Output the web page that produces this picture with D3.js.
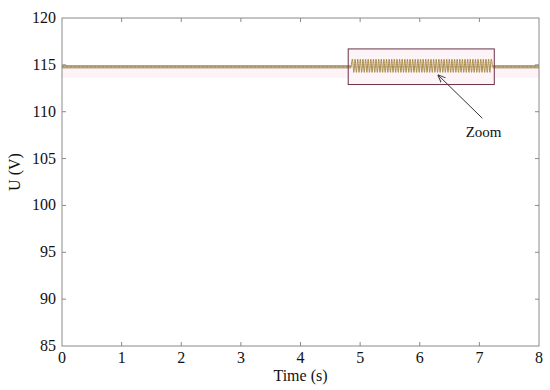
<!DOCTYPE html>
<html>
<head>
<meta charset="utf-8">
<script src="https://cdn.jsdelivr.net/npm/d3@7"></script>
<style>
  body { margin: 0; background: #fff; }
  svg text { font-family: "Liberation Serif", "Times New Roman", Times, "DejaVu Serif", serif; }
</style>
</head>
<body>
<svg id="chart" width="550" height="390"></svg>
<script>
// axis ticks
const xTicks = [0, 1, 2, 3, 4, 5, 6, 7, 8];
const yTicks = [85, 90, 95, 100, 105, 110, 115, 120];

// steady voltage outside the zoomed window (time, volts)
const steadyTime = [0, 1, 2, 3, 4, 4.85, 7.22, 8];
const steadyVolt = [114.8, 114.8, 114.8, 114.8, 114.8, 114.8, 114.8, 114.8];

// oscillation shown inside the zoom box: start, end time and successive extremes
const zoomStart = 4.85, zoomEnd = 7.22;
const zoomVolt = [
  114.8, 115.6, 114.2, 115.6, 114.2, 115.6, 114.2, 115.6, 114.2, 115.6, 114.2,
  115.6, 114.2, 115.6, 114.2, 115.6, 114.2, 115.6, 114.2, 115.6, 114.2,
  115.6, 114.2, 115.6, 114.2, 115.6, 114.2, 115.6, 114.2, 115.6, 114.2,
  115.6, 114.2, 115.6, 114.2, 115.6, 114.2, 115.6, 114.2, 115.6, 114.2,
  115.6, 114.2, 115.6, 114.2, 115.6, 114.2, 115.6, 114.2, 115.6, 114.2,
  115.6, 114.2, 115.6, 114.2, 115.6, 114.2, 115.6, 114.2, 115.6, 114.2,
  115.6, 114.2, 115.6, 114.2, 115.6, 114.2, 115.6, 114.2, 115.6, 114.2,
  115.6, 114.2, 115.6, 114.2, 115.6, 114.2, 115.6, 114.2, 115.6, 114.2,
  115.6, 114.2, 115.6, 114.2, 115.6, 114.2, 115.6, 114.2, 115.6, 114.2,
  115.6, 114.2, 115.6, 114.2, 115.6, 114.2, 115.6, 114.2, 115.6, 114.2,
  115.6, 114.2, 115.6, 114.2, 115.6, 114.2, 115.6, 114.8
];

// zoom box corners and annotation (data units)
const boxTime = [4.8, 7.25];
const boxVolt = [112.9, 116.7];
const arrowFrom = [7.05, 109.3];
const arrowTo = [6.31, 113.9];
const labelPos = [7.07, 107.3];
const zoomLabel = "Zoom";

const serif = "'Liberation Serif', 'Times New Roman', 'DejaVu Serif', serif";

const svg = d3.select("#chart");
const margin = {left: 62, right: 11, top: 18, bottom: 44};
const width = 550 - margin.left - margin.right;
const height = 390 - margin.top - margin.bottom;

const x = d3.scaleLinear().domain([0, 8]).range([0, width]);
const y = d3.scaleLinear().domain([85, 120]).range([height, 0]);

const g = svg.append("g").attr("transform", `translate(${margin.left},${margin.top})`);

svg.append("defs").append("marker")
    .attr("id", "arrow")
    .attr("viewBox", "0 0 10 10")
    .attr("refX", 9).attr("refY", 5)
    .attr("markerWidth", 8).attr("markerHeight", 8)
    .attr("orient", "auto")
    .append("path")
    .attr("d", "M0,1 L10,5 L0,9")
    .attr("fill", "none")
    .attr("stroke", "#333")
    .attr("stroke-width", 1.2);

// faint pink halo under the trace
g.append("rect")
    .attr("x", 0).attr("width", width)
    .attr("y", y(114.8)).attr("height", y(113.6) - y(114.8))
    .attr("fill", "#fef4f8");

// zoom box fill
g.append("rect")
    .attr("x", x(boxTime[0])).attr("y", y(boxVolt[1]))
    .attr("width", x(boxTime[1]) - x(boxTime[0]))
    .attr("height", y(boxVolt[0]) - y(boxVolt[1]))
    .attr("fill", "#fdf4f8");

// steady trace
const steady = steadyTime.map((t, i) => [t, steadyVolt[i]]);
const line = d3.line().x(d => x(d[0])).y(d => y(d[1]));

g.append("path")
    .datum(steady.filter(d => d[0] <= zoomStart))
    .attr("d", line)
    .attr("fill", "none").attr("stroke", "#b5a47a").attr("stroke-width", 3.5);
g.append("path")
    .datum(steady.filter(d => d[0] >= zoomEnd))
    .attr("d", line)
    .attr("fill", "none").attr("stroke", "#b5a47a").attr("stroke-width", 3.5);
g.append("path")
    .datum(steady)
    .attr("d", line)
    .attr("fill", "none").attr("stroke", "#8c7a4e").attr("stroke-width", 1)
    .attr("stroke-dasharray", "2,2").attr("opacity", 0.5);

// oscillating part
const step = (zoomEnd - zoomStart) / (zoomVolt.length - 1);
const osc = zoomVolt.map((v, i) => [zoomStart + i * step, v]);
g.append("path")
    .datum(osc)
    .attr("d", d3.line().x(d => x(d[0])).y(d => y(d[1])).curve(d3.curveCardinal))
    .attr("fill", "none").attr("stroke", "#a88a45").attr("stroke-width", 1);

// zoom box outline
g.append("rect")
    .attr("x", x(boxTime[0])).attr("y", y(boxVolt[1]))
    .attr("width", x(boxTime[1]) - x(boxTime[0]))
    .attr("height", y(boxVolt[0]) - y(boxVolt[1]))
    .attr("fill", "none").attr("stroke", "#6a3248").attr("stroke-width", 1);

// arrow + label
g.append("line")
    .attr("x1", x(arrowFrom[0])).attr("y1", y(arrowFrom[1]))
    .attr("x2", x(arrowTo[0])).attr("y2", y(arrowTo[1]))
    .attr("stroke", "#333").attr("stroke-width", 1)
    .attr("marker-end", "url(#arrow)");
g.append("text")
    .attr("x", x(labelPos[0])).attr("y", y(labelPos[1]))
    .attr("text-anchor", "middle")
    .style("font-family", serif)
    .attr("font-size", 15).attr("fill", "#111")
    .text(zoomLabel);

// frame and ticks
const frame = "#8a8a8a";
g.append("rect")
    .attr("width", width).attr("height", height)
    .attr("fill", "none").attr("stroke", frame).attr("stroke-width", 1);

const tickLen = 4;
g.selectAll(".xtb").data(xTicks.slice(1, -1)).join("line")
    .attr("x1", d => x(d)).attr("x2", d => x(d))
    .attr("y1", height).attr("y2", height - tickLen).attr("stroke", frame);
g.selectAll(".xtt").data(xTicks.slice(1, -1)).join("line")
    .attr("x1", d => x(d)).attr("x2", d => x(d))
    .attr("y1", 0).attr("y2", tickLen).attr("stroke", frame);
g.selectAll(".ytl").data(yTicks.slice(1, -1)).join("line")
    .attr("y1", d => y(d)).attr("y2", d => y(d))
    .attr("x1", 0).attr("x2", tickLen).attr("stroke", frame);
g.selectAll(".ytr").data(yTicks.slice(1, -1)).join("line")
    .attr("y1", d => y(d)).attr("y2", d => y(d))
    .attr("x1", width).attr("x2", width - tickLen).attr("stroke", frame);

g.selectAll(".xl").data(xTicks).join("text")
    .attr("x", d => x(d)).attr("y", height + 17)
    .attr("text-anchor", "middle").style("font-family", serif)
    .attr("font-size", 16).attr("fill", "#111")
    .text(d => d);
g.selectAll(".yl").data(yTicks).join("text")
    .attr("x", -6).attr("y", d => y(d) + 5)
    .attr("text-anchor", "end").style("font-family", serif)
    .attr("font-size", 16).attr("fill", "#111")
    .text(d => d);

g.append("text")
    .attr("x", width / 2).attr("y", height + 35)
    .attr("text-anchor", "middle").style("font-family", serif)
    .attr("font-size", 16).attr("fill", "#111")
    .text("Time (s)");
g.append("text")
    .attr("transform", `translate(${-42},${height / 2 - 10}) rotate(-90)`)
    .attr("text-anchor", "middle").style("font-family", serif)
    .attr("font-size", 16).attr("fill", "#111")
    .text("U (V)");
</script>
</body>
</html>
